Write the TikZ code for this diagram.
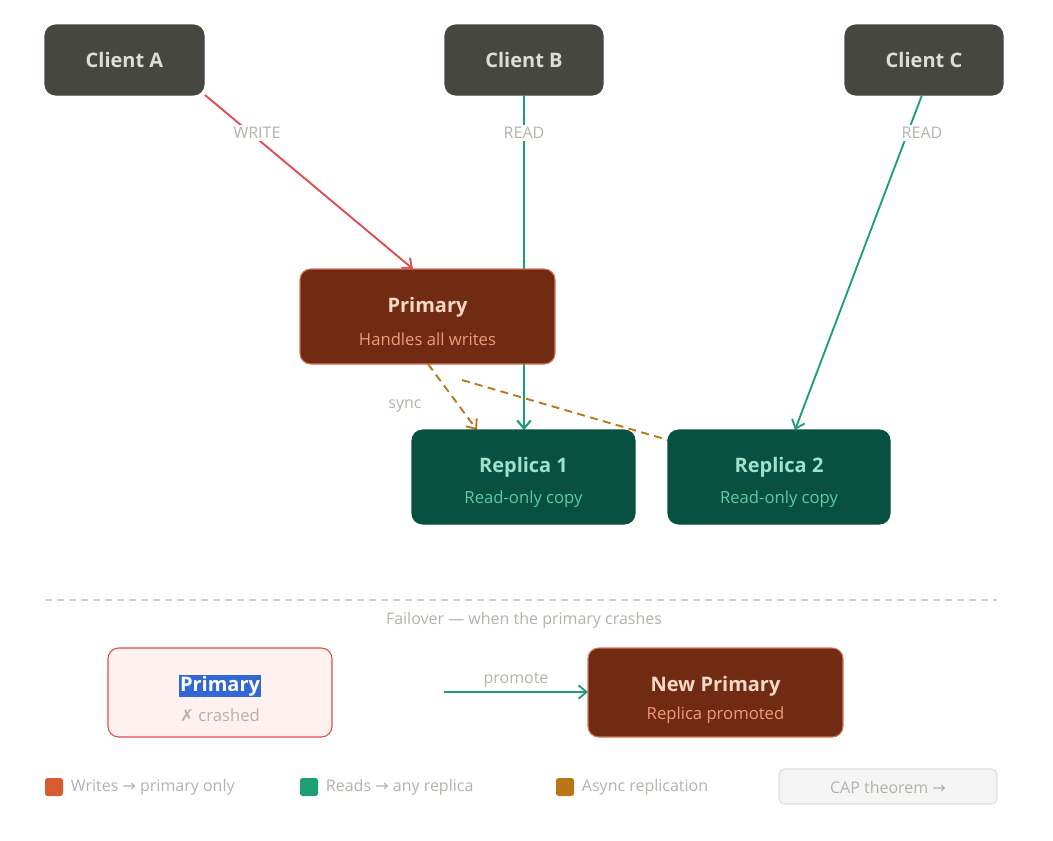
\documentclass[tikz,border=0pt]{standalone}
\usepackage{fontspec}
\setmainfont{Open Sans}
\newfontfamily\symfont{DejaVu Sans}
\usetikzlibrary{arrows.meta}
\definecolor{clientfill}{HTML}{474741}
\definecolor{clienttext}{HTML}{E0DDD5}
\definecolor{primfill}{HTML}{712B13}
\definecolor{primline}{HTML}{D8745A}
\definecolor{primtitle}{HTML}{F8D8C8}
\definecolor{primsub}{HTML}{F0997B}
\definecolor{repfill}{HTML}{08503F}
\definecolor{reptitle}{HTML}{9FE1CB}
\definecolor{repsub}{HTML}{5DCAA5}
\definecolor{writered}{HTML}{E24B4A}
\definecolor{readgreen}{HTML}{1D9E75}
\definecolor{syncorange}{HTML}{BA7517}
\definecolor{labelgray}{HTML}{B4B2A9}
\definecolor{legsq}{HTML}{D85A30}
\definecolor{crashfill}{HTML}{FDF2F0}
\definecolor{selblue}{HTML}{3367D6}
\newcommand{\rarr}{{\symfont →}}

\tikzset{
  box/.style={rounded corners=8pt,line width=0.8pt},
  client/.style={box,fill=clientfill,draw=clientfill},
  prim/.style={box,fill=primfill,draw=primline},
  rep/.style={box,fill=repfill,draw=repfill},
  title/.style={font=\fontsize{15}{18}\selectfont\bfseries},
  sub/.style={font=\fontsize{12.5}{15}\selectfont},
  lbl/.style={font=\fontsize{12}{14}\selectfont,text=labelgray,fill=white,inner sep=2pt},
  arr/.style={line width=1.4pt,-{Straight Barb[length=6pt,width=10pt]}}
}

\begin{document}
\begin{tikzpicture}[x=0.75pt,y=-0.75pt]
\useasboundingbox (0,0) rectangle (1053,840);

% clients
\draw[client] (45,25) rectangle (204,95);
\draw[client] (445,25) rectangle (603,95);
\draw[client] (845,25) rectangle (1003,95);
\node[title,text=clienttext] (ca) at (124.5,60) {Client A};
\node[title,text=clienttext] (cb) at (524,60) {Client B};
\node[title,text=clienttext] (cc) at (924,60) {Client C};
\coordinate (caout) at (205,95);
\coordinate (cbout) at (524,95);
\coordinate (ccout) at (922,95);

% connectors behind the boxes
\coordinate (primin) at (413,269);
\coordinate (rep1in) at (524,430);
\coordinate (rep2in) at (795,430);
\draw[arr,draw=writered] (caout) -- (primin);
\draw[arr,draw=readgreen] (cbout) -- (rep1in);
\draw[arr,draw=readgreen] (ccout) -- (rep2in);
\node[lbl] (wlbl) at (257,133) {WRITE};
\node[lbl] (rblbl) at (524,133) {READ};
\node[lbl] (rclbl) at (922,133) {READ};

% primary
\draw[prim] (300,269) rectangle (555,364);
\node[title,text=primtitle] (prim) at (427.5,307) {Primary};
\node[sub,text=primsub] (primsub) at (427.5,339) {Handles all writes};
\coordinate (primout) at (428,364);
\coordinate (primside) at (462,380);
\draw[arr,draw=readgreen] (524,364) -- (rep1in);

% replicas
\coordinate (rep1sync) at (477,430);
\coordinate (rep2sync) at (668,440);
\draw[syncorange,line width=1.4pt,dash pattern=on 6pt off 4pt,-{Straight Barb[length=6pt,width=10pt]}] (primout) -- (rep1sync);
\draw[syncorange,line width=1.4pt,dash pattern=on 6pt off 4pt] (primside) -- (rep2sync);
\node[lbl,fill=none] (sync) at (405,406) {sync};
\draw[rep] (412,430) rectangle (635,524);
\draw[rep] (668,430) rectangle (890,524);
\node[title,text=reptitle] (r1) at (523.5,467) {Replica 1};
\node[sub,text=repsub] (r1sub) at (523.5,499) {Read-only copy};
\node[title,text=reptitle] (r2) at (779,467) {Replica 2};
\node[sub,text=repsub] (r2sub) at (779,499) {Read-only copy};

% failover
\draw[labelgray!60,line width=0.8pt,dash pattern=on 5pt off 4pt] (45,600) -- (997,600);
\node[lbl] (fail) at (524,620) {Failover — when the primary crashes};
\draw[box,fill=crashfill,draw=writered] (108,648) rectangle (332,737);
\node[title,text=white,fill=selblue,inner sep=1pt] (old) at (220,686) {Primary};
\node[sub,text=labelgray] (oldsub) at (220,715) {{\symfont ✗} crashed};
\draw[prim] (588,648) rectangle (843,737);
\node[title,text=primtitle] (newp) at (715.5,686) {New Primary};
\node[sub,text=primsub] (newsub) at (715.5,715) {Replica promoted};
\coordinate (promfrom) at (444,692);
\coordinate (promto) at (588,692);
\draw[arr,draw=readgreen] (promfrom) -- node[lbl,above=1pt,fill=none] {promote} (promto);

% legend
\fill[legsq,rounded corners=2pt] (45,778) rectangle (63,796);
\node[lbl,anchor=west] (l1) at (68,787) {Writes \rarr{} primary only};
\fill[readgreen,rounded corners=2pt] (300,778) rectangle (318,796);
\node[lbl,anchor=west] (l2) at (323,787) {Reads \rarr{} any replica};
\fill[syncorange,rounded corners=2pt] (556,778) rectangle (574,796);
\node[lbl,anchor=west] (l3) at (579,787) {Async replication};
\draw[rounded corners=4pt,fill=gray!8,draw=gray!25,line width=0.8pt] (779,769) rectangle (997,804);
\node[lbl,fill=none] (cap) at (888,787) {CAP theorem \rarr};
\end{tikzpicture}
\end{document}
